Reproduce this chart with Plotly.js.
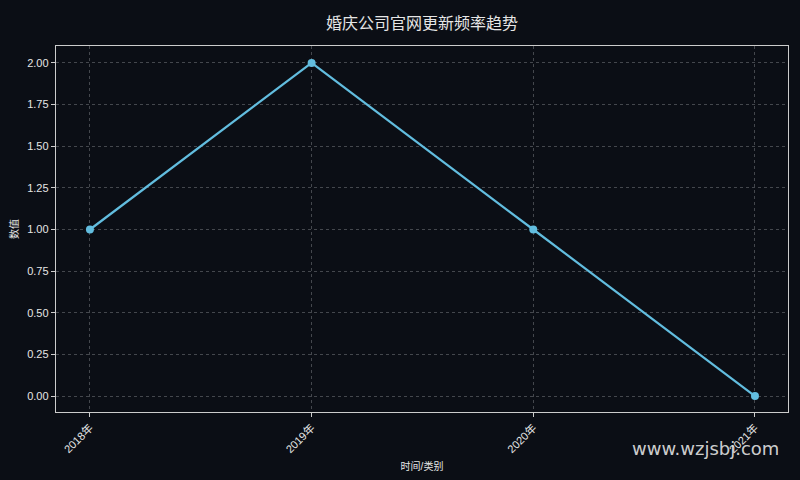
<!DOCTYPE html>
<html>
<head>
<meta charset="utf-8">
<script src="https://cdn.plot.ly/plotly-3.0.1.min.js"></script>
<style>
  html, body { margin: 0; padding: 0; background: #0b0e15; }
  #chart { width: 800px; height: 480px; }
</style>
</head>
<body>
<div id="chart"></div>
<script>
const years = ['2018年', '2019年', '2020年', '2021年']
const values = [1, 2, 1, 0]
const yTicks = [0, 0.25, 0.5, 0.75, 1, 1.25, 1.5, 1.75, 2]

const fontFamily = '"Liberation Sans", "Noto Sans CJK SC", sans-serif'
const textColor = '#e6e6e6'
const gridColor = '#44474d'

const data = [{
    x: years,
    y: values,
    type: 'scatter',
    mode: 'lines+markers',
    line: { color: '#62bddf', width: 2.2 },
    marker: { color: '#62bddf', size: 8 },
    hoverinfo: 'skip'
}]

const layout = {
    width: 800,
    height: 480,
    paper_bgcolor: '#0b0e15',
    plot_bgcolor: '#0b0e15',
    margin: { l: 56, r: 12, t: 46, b: 68 },
    showlegend: false,
    title: {
        text: '婚庆公司官网更新频率趋势',
        x: 0.5,
        xref: 'paper',
        y: 0.963,
        yref: 'container',
        font: { family: fontFamily, size: 16, color: textColor }
    },
    xaxis: {
        type: 'category',
        range: [-0.153, 3.149],
        tickangle: -45,
        ticks: 'outside',
        ticklen: 4,
        tickcolor: '#cccccc',
        tickfont: { family: fontFamily, size: 11, color: textColor },
        showgrid: true,
        gridcolor: gridColor,
        griddash: '3px,3px',
        gridwidth: 1,
        showline: true,
        linecolor: '#cccccc',
        linewidth: 1.2,
        mirror: true,
        zeroline: false,
        title: {
            text: '时间/类别',
            standoff: 8,
            font: { family: fontFamily, size: 10, color: textColor }
        }
    },
    yaxis: {
        range: [-0.096, 2.102],
        tickvals: yTicks,
        tickformat: '.2f',
        ticks: 'outside',
        ticklen: 4,
        tickcolor: '#cccccc',
        tickfont: { family: fontFamily, size: 11, color: textColor },
        showgrid: true,
        gridcolor: gridColor,
        griddash: '3px,3px',
        gridwidth: 1,
        showline: true,
        linecolor: '#cccccc',
        linewidth: 1.2,
        mirror: true,
        zeroline: false,
        title: {
            text: '数值',
            standoff: 6,
            font: { family: fontFamily, size: 10, color: textColor }
        }
    },
    annotations: [{
        text: 'www.wzjsbj.com',
        xref: 'paper',
        yref: 'paper',
        x: 0.99,
        y: -0.1,
        xanchor: 'right',
        yanchor: 'middle',
        showarrow: false,
        font: { family: '"DejaVu Sans", sans-serif', size: 18, color: 'rgba(230,230,230,0.9)' }
    }]
}

const config = { responsive: false, displayModeBar: false, staticPlot: true }

Plotly.newPlot(document.getElementById('chart'), data, layout, config)
</script>
</body>
</html>
